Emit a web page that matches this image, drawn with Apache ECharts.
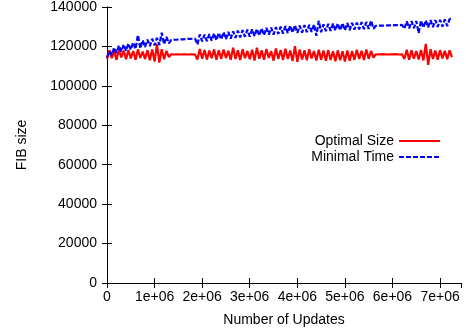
<!DOCTYPE html>
<html>
<head>
<meta charset="utf-8">
<script src="https://cdn.jsdelivr.net/npm/echarts@6/dist/echarts.min.js"></script>
<style>
  html, body { margin: 0; padding: 0; background: #fff; }
  #main { width: 466px; height: 333px; }
</style>
</head>
<body>
<div id="main"></div>
<script>
// number of updates, in millions
var updates = [
  0, 0.05, 0.1, 0.15, 0.2, 0.25, 0.3, 0.35, 0.4, 0.45,
  0.5, 0.55, 0.6, 0.65, 0.7, 0.75, 0.8, 0.85, 0.9, 0.95,
  1.0, 1.05, 1.1, 1.15, 1.2, 1.25, 1.3, 1.35, 1.4, 1.45,
  1.5, 1.55, 1.6, 1.65, 1.7, 1.75, 1.8, 1.85, 1.9, 1.95,
  2.0, 2.05, 2.1, 2.15, 2.2, 2.25, 2.3, 2.35, 2.4, 2.45,
  2.5, 2.55, 2.6, 2.65, 2.7, 2.75, 2.8, 2.85, 2.9, 2.95,
  3.0, 3.05, 3.1, 3.15, 3.2, 3.25, 3.3, 3.35, 3.4, 3.45,
  3.5, 3.55, 3.6, 3.65, 3.7, 3.75, 3.8, 3.85, 3.9, 3.95,
  4.0, 4.05, 4.1, 4.15, 4.2, 4.25, 4.3, 4.35, 4.4, 4.45,
  4.5, 4.55, 4.6, 4.65, 4.7, 4.75, 4.8, 4.85, 4.9, 4.95,
  5.0, 5.05, 5.1, 5.15, 5.2, 5.25, 5.3, 5.35, 5.4, 5.45,
  5.5, 5.55, 5.6, 5.65, 5.7, 5.75, 5.8, 5.85, 5.9, 5.95,
  6.0, 6.05, 6.1, 6.15, 6.2, 6.25, 6.3, 6.35, 6.4, 6.45,
  6.5, 6.55, 6.6, 6.65, 6.7, 6.75, 6.8, 6.85, 6.9, 6.95,
  7.0, 7.05, 7.1, 7.15, 7.2, 7.25
];

// FIB size, Optimal Size
var optimalSize = [
  113600, 118000, 114100, 117600, 113200, 118300, 114400, 117900, 113500, 118200,
  113900, 117700, 113300, 118500, 114200, 117400, 113600, 118100, 113000, 118400,
  112300, 121200, 111800, 118600, 113500, 117800, 114600, 116000, 115900, 116000,
  116000, 115900, 116000, 116000, 115900, 116000, 116000, 115900, 113400, 118700,
  113800, 118200, 113400, 117900, 114000, 118500, 113300, 118100, 113700, 118400,
  114100, 117800, 113200, 119300, 113600, 118000, 113100, 118600, 114000, 117700,
  113500, 118300, 112900, 119400, 113800, 118100, 113300, 118700, 114200, 117600,
  112800, 119000, 113700, 118200, 113100, 118800, 113600, 117900, 112600, 120100,
  112200, 118500, 113400, 118000, 113000, 118600, 113900, 117700, 112900, 118300,
  113300, 117900, 112700, 118200, 113100, 117600, 112500, 118000, 113000, 117500,
  112400, 117900, 112800, 117600, 113200, 118300, 113600, 117800, 113100, 118400,
  113700, 117700, 114300, 116000, 115900, 116000, 116100, 116000, 115900, 116000,
  116000, 116100, 116000, 115900, 116000, 113600, 118300, 113200, 118000, 113800,
  117700, 113400, 118200, 112900, 121300, 110600, 118600, 113600, 117900, 113300,
  118100, 113900, 117800, 113500, 118000, 114600
];

// FIB size, Minimal Time
var minimalTime = [
  114400, 117700, 115600, 119300, 116600, 120400, 117300, 121000, 117900, 121500,
  118300, 122000, 118700, 125800, 119000, 123100, 119700, 123500, 120100, 123900,
  120500, 124300, 120700, 126900, 121100, 124900, 121500, 123300, 123400, 123400,
  123500, 123600, 123600, 123700, 123800, 123800, 123900, 124000, 121000, 126100,
  122500, 126000, 122700, 126300, 122900, 126600, 123200, 126900, 123500, 127200,
  123700, 127400, 124000, 127700, 124300, 128000, 124600, 128300, 124900, 128500,
  125000, 128700, 125200, 128900, 125500, 129200, 125700, 129400, 126000, 129600,
  126000, 129800, 126300, 130000, 126500, 130300, 126800, 130500, 127000, 130700,
  126800, 130600, 127000, 130800, 127200, 131000, 127400, 131200, 125400, 133000,
  127200, 131200, 127800, 131400, 127900, 131600, 128100, 131700, 128200, 131800,
  128200, 131900, 128300, 132000, 128500, 132100, 128700, 132300, 128800, 132400,
  128900, 133100, 129000, 130500, 130500, 130600, 130600, 130600, 130700, 130700,
  130700, 130800, 130800, 130800, 130900, 129000, 132700, 129200, 132800, 129300,
  132900, 126800, 133100, 129500, 133200, 129700, 133300, 129800, 133400, 129900,
  133500, 130000, 133700, 130300, 133900, 134300
];

var seriesNames = ['Optimal Size', 'Minimal Time'];

var font = '"Liberation Sans", Arial, sans-serif';

function xLabel(v) {
  if (v === 0) return '0';
  if (v % 1000000 !== 0) return '';
  return (v / 1000000) + 'e+06';
}

function pairs(ys) {
  return updates.map(function (u, i) {
    return [Math.round(u * 1000000), ys[i]];
  });
}

var chart = echarts.init(document.getElementById('main'));

var border = { lineStyle: { color: '#000', width: 1 } };
var ticks = { inside: true, length: 5, lineStyle: { color: '#000' } };

var option = {
  animation: false,
  textStyle: { fontFamily: font },
  grid: { left: 107, right: 5, top: 7, bottom: 50 },
  legend: {
    orient: 'vertical',
    right: 20,
    top: 129,
    align: 'right',
    itemWidth: 41,
    itemHeight: 14,
    itemGap: 2,
    itemStyle: { opacity: 0 },
    lineStyle: { width: 2 },
    textStyle: { fontFamily: font, fontSize: 14, color: '#000', width: 84, align: 'right' },
    data: seriesNames
  },
  xAxis: [{
    type: 'value',
    min: 0,
    max: 7440000,
    interval: 1000000,
    name: 'Number of Updates',
    nameLocation: 'middle',
    nameGap: 30,
    nameTextStyle: { fontFamily: font, fontSize: 14, color: '#000' },
    axisLine: border,
    axisTick: ticks,
    axisLabel: { fontFamily: font, fontSize: 14, color: '#000', margin: 7, showMaxLabel: false, formatter: xLabel },
    splitLine: { show: false }
  }, {
    type: 'value',
    position: 'top',
    min: 0,
    max: 7440000,
    interval: 1000000,
    axisLine: border,
    axisTick: ticks,
    axisLabel: { show: false },
    splitLine: { show: false }
  }],
  yAxis: [{
    type: 'value',
    min: 0,
    max: 140000,
    interval: 20000,
    name: 'FIB size',
    nameLocation: 'middle',
    nameGap: 78,
    nameTextStyle: { fontFamily: font, fontSize: 14, color: '#000' },
    axisLine: border,
    axisTick: ticks,
    axisLabel: { fontFamily: font, fontSize: 14, color: '#000', margin: 10, formatter: function (v) { return String(v); } },
    splitLine: { show: false }
  }, {
    type: 'value',
    position: 'right',
    min: 0,
    max: 140000,
    interval: 20000,
    axisLine: border,
    axisTick: ticks,
    axisLabel: { show: false },
    splitLine: { show: false }
  }],
  series: [{
    name: seriesNames[0],
    type: 'line',
    xAxisIndex: 0,
    yAxisIndex: 0,
    symbol: 'none',
    color: '#ff0000',
    lineStyle: { color: '#ff0000', width: 2.2 },
    data: pairs(optimalSize)
  }, {
    name: seriesNames[1],
    type: 'line',
    xAxisIndex: 0,
    yAxisIndex: 0,
    symbol: 'none',
    color: '#0000ff',
    lineStyle: { color: '#0000ff', width: 2.2, type: [5, 2] },
    data: pairs(minimalTime)
  }]
};

chart.setOption(option);
</script>
</body>
</html>
